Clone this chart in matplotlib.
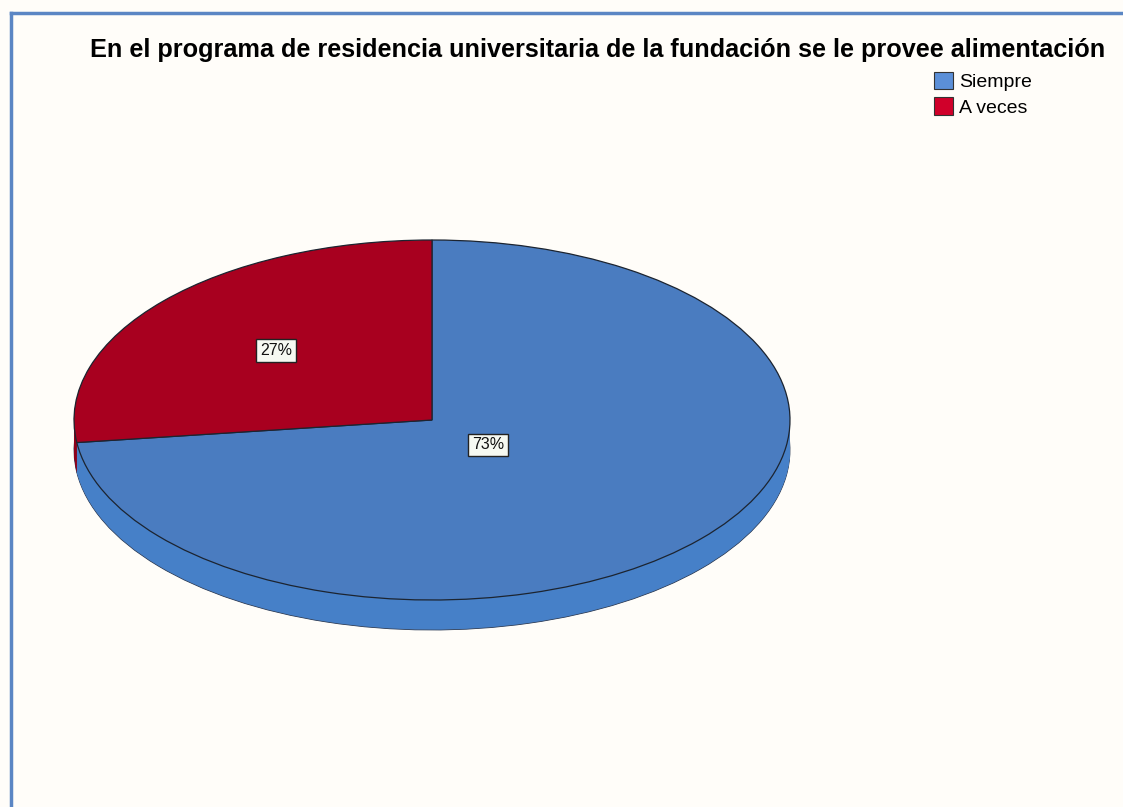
import numpy as np
import matplotlib.pyplot as plt
from matplotlib.patches import Patch
from matplotlib.lines import Line2D

# Datos de la encuesta
categorias = ['Siempre', 'A veces']
porcentajes = [73, 27]
titulo = 'En el programa de residencia universitaria de la fundación se le provee alimentación'

color_top = ['#4a7cc0', '#a8001f']
color_side = ['#4680c8', '#8e001a']
color_legend = ['#5b8fd8', '#d0002a']

W, H = 1123, 807
fig = plt.figure(figsize=(W / 100, H / 100), dpi=100, facecolor='#fffdf9')

# blue frame (left and top)
fig.add_artist(Line2D([11 / W, 11 / W], [0, 1 - 13 / H], color='#5b86c4', lw=2.5))
fig.add_artist(Line2D([11 / W, 1], [1 - 13 / H, 1 - 13 / H], color='#5b86c4', lw=2.5))

# pie top face spans x 74..790, y 240..600 px ; side depth 30 px
depth = 30 / 180
ax = fig.add_axes([74 / W, (H - 630) / H, (790 - 74) / W, 390 / H])

# side of the 3d pie: stack shifted copies
n_layers = 40
for i, off in enumerate(np.linspace(-depth, 0, n_layers, endpoint=False)):
    edge = '#2a3a55' if i == 0 else 'none'
    ax.pie(porcentajes, colors=color_side, startangle=90, counterclock=False,
           center=(0, off), wedgeprops=dict(edgecolor=edge, linewidth=0.6))

wedges, texts, autotexts = ax.pie(
    porcentajes, colors=color_top, startangle=90, counterclock=False,
    autopct='%1.0f%%', wedgeprops=dict(edgecolor='#1c2430', linewidth=0.9),
    textprops=dict(fontsize=11.5, family='Liberation Sans', color='#111111'))

# label distances differ per slice
dists = [0.21, 0.58]
for w, t, r in zip(wedges, autotexts, dists):
    ang = np.deg2rad((w.theta1 + w.theta2) / 2)
    t.set_position((r * np.cos(ang), r * np.sin(ang)))
    t.set_bbox(dict(boxstyle='square,pad=0.25', facecolor='#f6f9f2', edgecolor='#222222', linewidth=1.0))

ax.set_aspect('auto')
ax.set_xlim(-1, 1)
ax.set_ylim(-1 - depth, 1)
ax.axis('off')

fig.text(598 / W, 1 - 50 / H, titulo, ha='center', va='center',
         fontsize=18.2, fontweight='bold', family='Liberation Sans')

handles = [Patch(facecolor=c, edgecolor='#333333', linewidth=0.8) for c in color_legend]
fig.legend(handles, categorias, loc='upper left', bbox_to_anchor=(934 / W, 1 - 72 / H),
           frameon=False, prop=dict(family='Liberation Sans', size=14),
           handlelength=1.0, handleheight=1.0, handletextpad=0.3, labelspacing=0.3,
           borderaxespad=0, borderpad=0)

fig.savefig('out.png', dpi=100, facecolor=fig.get_facecolor())
